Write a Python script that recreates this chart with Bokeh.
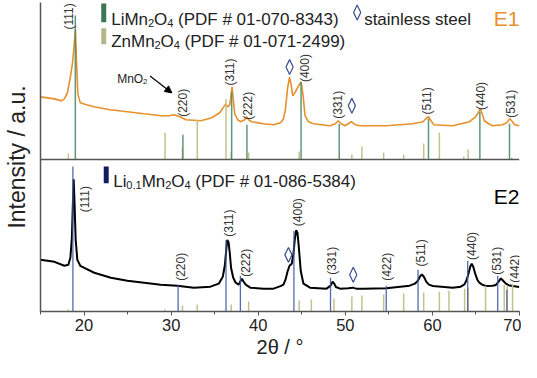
import math
from bokeh.plotting import figure
from bokeh.models import (Range1d, SingleIntervalTicker, FixedTicker, Span, Label,
                          Arrow, NormalHead)
from bokeh.embed import file_html
from bokeh.resources import INLINE

# ---------------- data ----------------
# E1 (top panel) intensity above the panel baseline
e1_tt = [15.00, 16.60, 17.40, 17.74, 18.09, 18.43, 18.66, 18.83, 19.00, 19.15, 19.29, 19.57,
         20.26, 21.17, 23.00, 24.95, 26.89, 28.84, 29.75, 30.32, 31.01, 31.70, 33.41, 34.67,
         35.58, 36.04, 36.27, 36.50, 36.73, 36.90, 36.99, 37.13, 37.30, 37.64, 37.99, 38.44,
         38.67, 38.90, 39.24, 40.61, 41.76, 42.56, 42.90, 43.13, 43.36, 43.59, 43.76, 43.97,
         44.27, 44.62, 44.92, 45.13, 45.38, 45.76, 46.33, 48.24, 48.85, 49.19, 49.54, 49.99,
         50.33, 50.68, 51.13, 51.70, 54.68, 57.77, 58.91, 59.26, 59.56, 59.83, 60.17, 62.34,
         64.25, 64.97, 65.31, 65.51, 65.71, 65.96, 66.46, 66.92, 68.06, 68.52, 68.89, 69.20,
         69.43, 70.00]
e1_int = [63, 61, 59, 61, 67, 83, 96, 111, 131, 96, 66, 57,
          55, 53, 50, 48, 46, 44, 44, 45, 43, 40, 39, 42,
          47, 53, 56, 53, 55, 66, 73, 61, 46, 40, 38, 40,
          43, 40, 38, 36, 35, 37, 41, 51, 71, 83, 76, 64,
          68, 74, 78, 66, 44, 38, 36, 34, 36, 39, 36, 34,
          36, 38, 35, 34, 34, 36, 38, 41, 43, 39, 35, 34,
          38, 43, 48, 51, 46, 39, 36, 34, 35, 37, 41, 38,
          35, 34]

# E2 (bottom panel)
e2_tt = [15.00, 16.60, 17.74, 18.20, 18.43, 18.60, 18.72, 18.81, 18.91, 19.04, 19.23, 19.57,
         20.03, 21.17, 23.08, 24.98, 26.89, 28.80, 30.70, 32.61, 34.52, 35.47, 35.93, 36.16,
         36.33, 36.44, 36.59, 36.73, 36.88, 37.13, 37.41, 37.76, 37.99, 38.13, 38.33, 38.56,
         39.09, 40.61, 41.76, 42.56, 42.90, 43.13, 43.36, 43.59, 43.85, 44.05, 44.22, 44.36,
         44.51, 44.65, 44.88, 45.19, 45.95, 47.85, 48.31, 48.54, 48.73, 48.92, 49.39, 50.33,
         50.83, 51.25, 52.05, 54.71, 57.38, 57.99, 58.33, 58.56, 58.79, 59.02, 59.29, 59.60,
         60.05, 62.34, 63.25, 63.68, 63.94, 64.17, 64.34, 64.51, 64.69, 64.94, 65.16, 65.39,
         65.71, 66.15, 66.92, 67.29, 67.60, 67.87, 68.12, 68.44, 68.75, 69.20, 69.97]
e2_int = [52, 50, 46, 47, 54, 74, 109, 133, 109, 72, 52, 46,
          44, 39, 34, 31, 29, 27, 26, 24, 25, 28, 35, 46,
          62, 72, 70, 59, 44, 34, 29, 27, 31, 33, 30, 27,
          24, 23, 23, 25.5, 27, 32, 40, 46, 48, 59, 74, 82,
          79, 66, 41, 28, 24, 23, 26, 30, 28, 24.7, 23, 23.5,
          24, 23, 23, 23.3, 26, 28, 31, 35, 37.3, 35, 30, 27,
          25.7, 24, 25, 27.3, 32, 39, 45, 48, 45, 37.3, 32, 29,
          27, 25.7, 26, 26.7, 30, 33.3, 31, 28, 26.5, 25.7, 24.7]

# reference patterns
limn_tt = [19.00, 31.35, 36.95, 38.70, 44.92, 49.30, 59.55, 65.45, 68.85]
limn_h = [145, 25, 68, 35, 78, 36, 41, 48, 36]
zn_top_tt = [18.2, 29.3, 31.3, 33.0, 36.3, 36.9, 38.9, 44.7, 50.75, 51.9, 54.4, 56.7,
             59.0, 60.8, 63.6, 64.1, 69.1]
zn_top_h = [6, 27, 12, 40, 61, 8, 7, 8, 5, 13, 7, 5, 16, 27, 3, 10, 2]
zn_bot_tt = [18.2, 29.3, 31.3, 33.0, 36.9, 38.9, 44.7, 46.1, 48.7, 50.75, 51.9, 54.4,
             56.7, 59.0, 60.8, 61.9, 63.7, 64.1, 66.1, 68.25, 68.6, 69.2]
zn_bot_h = [2, 2, 6, 7, 7, 10, 11, 12, 13, 15, 16, 17, 18, 19, 20, 21, 23, 24, 26, 27, 26, 28]
li01_tt = [18.72, 30.80, 36.30, 37.95, 44.10, 48.30, 54.70, 58.35, 64.05, 67.50, 68.55]
li01_h = [146, 27, 72, 36, 81, 34, 26, 42, 51, 36, 22]

# stainless steel markers
ss_top_tt = [43.6, 50.75]
ss_top_y = [93, 54]
ss_bot_tt = [43.47, 50.91]
ss_bot_y = [57, 37]

# hkl labels
hkl_top = ["(111)", "(220)", "(311)", "(222)", "(400)", "(331)", "(511)", "(440)", "(531)"]
hkl_top_tt = [18.32, 31.35, 36.73, 38.79, 45.42, 49.19, 59.37, 65.54, 68.97]
hkl_top_y = [144, 57, 88, 54, 92, 55, 59, 64, 56]
hkl_bot = ["(111)", "(220)", "(311)", "(222)", "(400)", "(331)", "(422)", "(511)", "(440)", "(531)", "(442)"]
hkl_bot_tt = [20.15, 31.12, 36.61, 38.56, 44.62, 48.50, 54.79, 58.68, 64.51, 67.37, 69.43]
hkl_bot_y = [113, 45, 89, 49, 100, 51, 45, 59, 66, 51, 43]

x_ticks_interval = 10

# ---------------- layout constants ----------------
X0, X1 = 15, 70
FL, FW = 46, 481                 # frame left / width in page px
RT, RH = 13, 311                 # reference frame top / height (coordinate basis)
PXU = FW / (X1 - X0)
TOP = 153                        # baseline of top panel (data y)

def px2x(px):
    return X0 + (px - FL) / PXU

def py2y(py):
    return (RT + RH) - py

ORANGE = "#E8902C"
GREEN = "#4E8C6C"
GREEN_D = "#3B7657"
KHAKI = "#C2C38C"
KHAKI_D = "#B4B78A"
BLUE = "#4259A6"
NAVY = "#111C5E"
AX = "#555555"
FONT = "Liberation Sans"
NB = "\u00a0"

p = figure(width=38 + FW + 2, height=362, x_range=Range1d(X0, X1), y_range=Range1d(0, RH),
           output_backend="svg", toolbar_location=None,
           min_border_left=38, min_border_right=2, min_border_top=2, min_border_bottom=51)
p.outline_line_color = None
p.grid.visible = False
p.background_fill_color = "white"

xa = p.xaxis[0]
xa.ticker = SingleIntervalTicker(interval=x_ticks_interval, num_minor_ticks=2)
xa.axis_line_color = AX
xa.axis_line_width = 1.5
xa.major_tick_line_color = AX
xa.minor_tick_line_color = AX
xa.major_tick_in = 0
xa.major_tick_out = 4
xa.minor_tick_in = 0
xa.minor_tick_out = 3
xa.major_label_text_font = FONT
xa.major_label_text_font_size = "16.5px"
xa.major_label_text_color = "#222222"
xa.major_label_standoff = 3
xa.axis_label = "2θ / °"
xa.axis_label_text_font = FONT
xa.axis_label_text_font_size = "20px"
xa.axis_label_text_font_style = "normal"
xa.axis_label_text_color = "#222222"
xa.axis_label_standoff = 2

ya = p.yaxis[0]
ya.ticker = FixedTicker(ticks=[])
ya.axis_line_color = AX
ya.axis_line_width = 1.5
ya.major_tick_out = 0
ya.major_tick_in = 0
ya.minor_tick_out = 0
ya.minor_tick_in = 0
ya.major_label_text_font_size = "0px"
ya.axis_label = "Intensity / a.u."
ya.axis_label_text_font = FONT
ya.axis_label_text_font_size = "23px"
ya.axis_label_text_font_style = "normal"
ya.axis_label_text_color = "#222222"
ya.axis_label_standoff = 11

p.add_layout(Span(location=TOP, dimension="width", line_color=AX, line_width=1.5))

# curves
p.line(e1_tt, [v + TOP for v in e1_int], line_color=ORANGE, line_width=1.6)
p.line(e2_tt, e2_int, line_color="black", line_width=2.0)

# reference sticks
p.segment(x0=zn_top_tt, y0=[TOP] * len(zn_top_tt), x1=zn_top_tt, y1=[TOP + h for h in zn_top_h],
          line_color=KHAKI, line_width=1.5)
p.segment(x0=limn_tt, y0=[TOP] * len(limn_tt), x1=limn_tt, y1=[TOP + h for h in limn_h],
          line_color=GREEN, line_width=1.5, line_alpha=0.9)
p.segment(x0=zn_bot_tt, y0=[0] * len(zn_bot_tt), x1=zn_bot_tt, y1=zn_bot_h,
          line_color=KHAKI, line_width=1.5)
p.segment(x0=li01_tt, y0=[0] * len(li01_tt), x1=li01_tt, y1=li01_h,
          line_color=BLUE, line_width=1.3, line_alpha=0.9)

# stainless steel diamonds
def diamonds(xs, ys):
    hw = 3.6 / PXU
    hh = 7.5
    pxs = [[x - hw, x, x + hw, x] for x in xs]
    pys = [[y, y + hh, y, y - hh] for y in ys]
    p.patches(pxs, pys, fill_color="white", line_color="#3A4D8F", line_width=1.2)

diamonds(ss_top_tt, [TOP + v for v in ss_top_y])
diamonds(ss_bot_tt, ss_bot_y)
diamonds([px2x(364)], [py2y(23)])

# hkl labels
for t, x, y in zip(hkl_top, hkl_top_tt, hkl_top_y):
    p.add_layout(Label(x=x, y=y + TOP, text=t, angle=math.pi / 2, text_align="center",
                       text_baseline="middle", text_font=FONT, text_font_size="12px",
                       text_color="#333333"))
for t, x, y in zip(hkl_bot, hkl_bot_tt, hkl_bot_y):
    p.add_layout(Label(x=x, y=y, text=t, angle=math.pi / 2, text_align="center",
                       text_baseline="middle", text_font=FONT, text_font_size="12px",
                       text_color="#333333"))

# rich text helper (Arial / Liberation Sans metrics)
W = {"L": 556, "i": 222, "M": 833, "n": 556, "O": 778, "Z": 611, " ": 278, NB: 278, "(": 333,
     ")": 333, "P": 667, "D": 722, "F": 611, "#": 556, "-": 333, ".": 278, "s": 500, "t": 278,
     "a": 556, "e": 556, "l": 222}

def tw(s, size):
    return sum(W.get(c, 556) for c in s) / 1000.0 * size

def rich(x_px, base_py, segs, size, color="#222222"):
    cur = x_px
    for txt, sub in segs:
        fs = size * 0.65 if sub else size
        dy = size * 0.2 if sub else 0
        p.add_layout(Label(x=px2x(cur), y=py2y(base_py + dy), text=txt, text_font=FONT,
                           text_font_size=f"{fs:.1f}px", text_color=color,
                           text_baseline="alphabetic", text_align="left"))
        cur += tw(txt, fs)

# legend swatches
p.quad(left=[px2x(107)], right=[px2x(112)], bottom=[py2y(33)], top=[py2y(14)],
       fill_color=GREEN_D, line_color=None)
p.quad(left=[px2x(107)], right=[px2x(112)], bottom=[py2y(55)], top=[py2y(39)],
       fill_color=KHAKI_D, line_color=None)
p.quad(left=[px2x(109.5)], right=[px2x(114.5)], bottom=[py2y(195)], top=[py2y(178)],
       fill_color=NAVY, line_color=None)

LS = 17
rich(117, 30, [("LiMn", False), ("2", True), ("O", False), ("4", True),
               (NB + "(PDF # 01-070-8343)", False)], LS)
rich(117, 52, [("ZnMn", False), ("2", True), ("O", False), ("4", True),
               (NB + "(PDF # 01-071-2499)", False)], LS)
rich(119, 193, [("Li", False), ("0.1", True), ("Mn", False), ("2", True), ("O", False),
                ("4", True), (NB + "(PDF # 01-086-5384)", False)], LS)
rich(371, 30, [("stainless steel", False)], LS)
rich(123, 90, [("MnO", False), ("2", True)], 12)

p.add_layout(Label(x=X1, y=py2y(29), text="E1", text_align="right", text_baseline="alphabetic",
                   text_font=FONT, text_font_size="21px", text_color=ORANGE))
p.add_layout(Label(x=X1, y=py2y(208), text="E2", text_align="right", text_baseline="alphabetic",
                   text_font=FONT, text_font_size="21px", text_color="black"))

p.add_layout(Arrow(end=NormalHead(size=7, fill_color="black", line_color="black"),
                   x_start=px2x(156), y_start=py2y(87), x_end=px2x(178), y_end=py2y(104),
                   line_color="black", line_width=1.2))

open("out.html", "w").write(file_html(p, INLINE))
